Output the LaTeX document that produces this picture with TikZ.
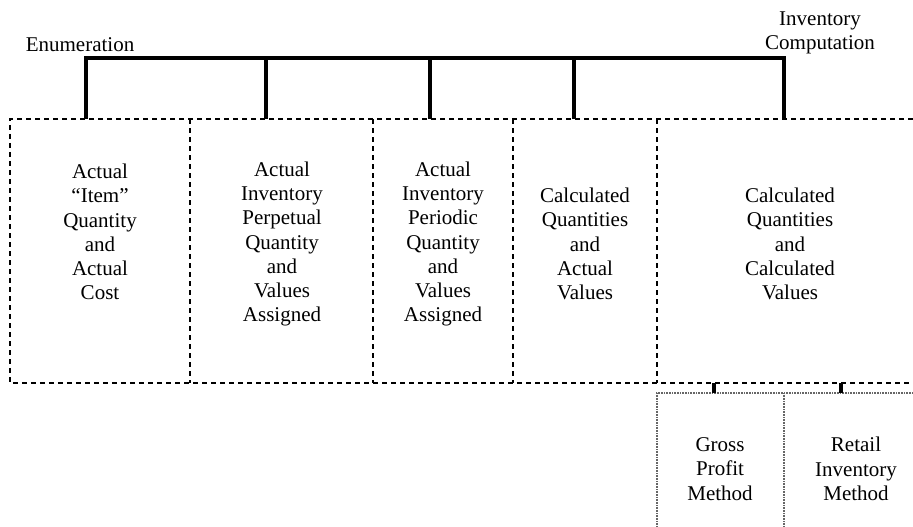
\documentclass[tikz,border=0pt]{standalone}
\usepackage{fontspec}
\setmainfont{Liberation Serif}
\begin{document}
\begin{tikzpicture}[x=1pt,y=-1pt,
  lbl/.style={align=center,inner sep=0pt,font=\fontsize{21}{24.2}\selectfont},
  conn/.style={line width=3.4pt,black},
  dbox/.style={line width=2.2pt,dash pattern=on 5pt off 4pt},
  fbox/.style={line width=1.8pt,gray!80!black,dash pattern=on 1pt off 0.6pt}]
\useasboundingbox (0,0) rectangle (913,527);
% labels
\node[lbl] (enum) at (80,45) {Enumeration};
\node[lbl] (invc) at (820,33) {Inventory\\Computation};
% box texts
\node[lbl] (b1) at (100,232) {Actual\\``Item''\\Quantity\\and\\Actual\\Cost};
\node[lbl] (b2) at (282,244) {Actual\\Inventory\\Perpetual\\Quantity\\and\\Values\\Assigned};
\node[lbl] (b3) at (443,244) {Actual\\Inventory\\Periodic\\Quantity\\and\\Values\\Assigned};
\node[lbl] (b4) at (585,244) {Calculated\\Quantities\\and\\Actual\\Values};
\node[lbl] (b5) at (790,244) {Calculated\\Quantities\\and\\Calculated\\Values};
\node[lbl] (g1) at (720,469) {Gross\\Profit\\Method};
\node[lbl] (g2) at (856,469) {Retail\\Inventory\\Method};
% frame coordinates
\coordinate (t1) at (86,119);
\coordinate (t2) at (266,119);
\coordinate (t3) at (430,119);
\coordinate (t4) at (574,119);
\coordinate (t5) at (784,119);
\coordinate (s1) at (714,383);
\coordinate (s2) at (841,383);
\coordinate (u1) at (714,393);
\coordinate (u2) at (841,393);
% dashed upper boxes
\draw[dbox] (913,119) -- (10,119) -- (10,383) -- (913,383);
\foreach \x in {190,373,513,657} \draw[dbox] (\x,119) -- (\x,383);
% lower boxes
\draw[fbox] (913,393) -- (657,393) -- (657,527);
\draw[fbox] (784,393) -- (784,527);
% connectors
\draw[conn] (t1) -- (86,58) -- (784,58) -- (t5);
\draw[conn] (t2) -- (266,58);
\draw[conn] (t3) -- (430,58);
\draw[conn] (t4) -- (574,58);
\draw[conn] (s1) -- (u1);
\draw[conn] (s2) -- (u2);
\end{tikzpicture}
\end{document}
